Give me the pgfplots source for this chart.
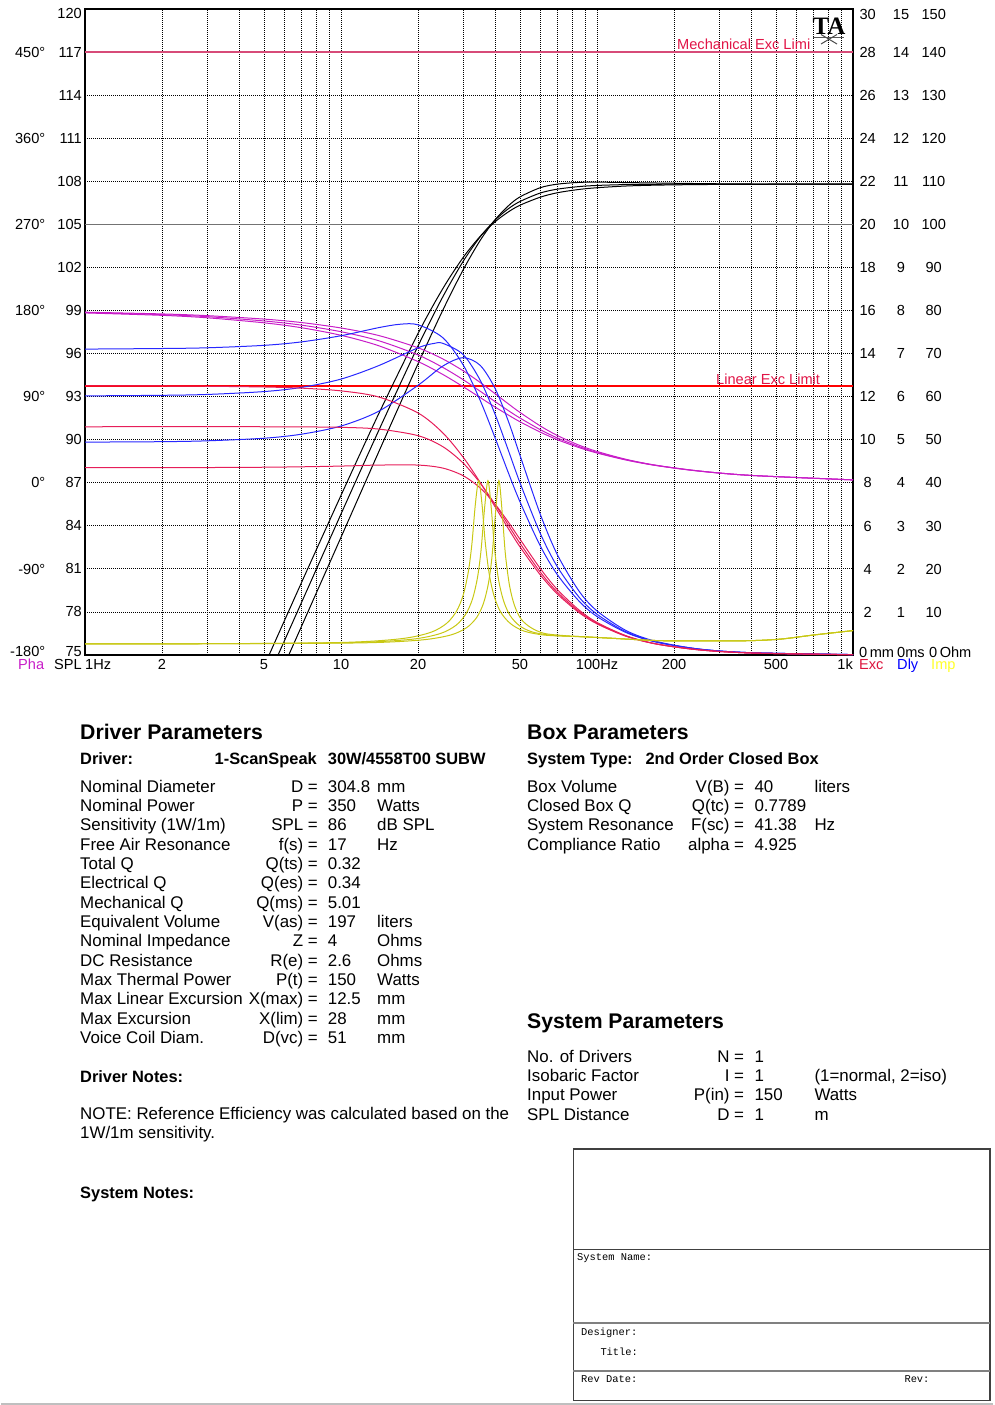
\documentclass[border=0pt]{standalone}
\usepackage{fontspec}
\setmainfont{Liberation Sans}
\newfontfamily\tafont{Liberation Serif}
\setmonofont{Liberation Mono}
\usepackage{pgfplots}
\pgfplotsset{compat=1.18}
\newcommand\fs[1]{\fontsize{#1}{#1}\selectfont}
\definecolor{excc}{RGB}{230,30,90}
\definecolor{mechc}{RGB}{215,75,120}
\definecolor{limred}{RGB}{255,0,0}
\definecolor{limtxt}{RGB}{225,20,70}
\definecolor{phac}{RGB}{200,30,200}
\definecolor{dlyc}{RGB}{40,40,255}
\definecolor{impc}{RGB}{200,200,20}
\definecolor{implab}{RGB}{255,255,40}
\definecolor{exclab}{RGB}{220,20,60}
\begin{document}
\begin{tikzpicture}[x=1pt,y=-1pt]
\path (0,0) rectangle (992,1405);
\begin{axis}[
  at={(84pt,-655pt)}, anchor=south west,
  scale only axis, width=768pt, height=646pt,
  xmode=log, xmin=1, xmax=1000, ymin=75, ymax=120,
  xtick={1,2,3,4,5,6,7,8,9,10,20,30,40,50,60,70,80,90,100,200,300,400,500,600,700,800,900,1000},
  xticklabels={,2,,,5,,,,,10,20,,,50,,,,,100Hz,200,,,500,,,,,},
  ytick={75,78,81,84,87,90,93,96,99,102,108,111,114,117,120},
  yticklabels={,78,81,84,87,90,93,96,99,102,108,111,114,117,},
  extra y ticks={105}, extra y tick labels={105},
  extra y tick style={major grid style={solid, black!55, line width=1.3pt}},
  grid=major,
  major grid style={black, line width=0.8pt, dash pattern=on 1pt off 1pt},
  major tick length=0pt, minor tick length=0pt,
  axis line style={black, line width=1.5pt},
  tick label style={font=\fs{14.6}},
  xticklabel style={inner sep=0pt, anchor=north, yshift=-4pt},
  yticklabel style={inner sep=0pt, anchor=east, xshift=-3pt},
]
% excursion limits
\addplot[color=mechc, line width=1.4pt] coordinates {(1,117)(1000,117)};
\addplot[color=limred, line width=1.5pt] coordinates {(1,93.75)(1000,93.75)};
% SPL
\addplot[black, line width=1pt, smooth] coordinates {(5,71.11)(7,76.97)(10,83.20)(14,89.10)(20,95.29)(25,99.03)(30,101.83)(35,103.89)(40,105.32)(45,106.28)(50,106.91)(60,107.55)(70,107.80)(85,107.92)(100,107.94)(130,107.91)(170,107.88)(250,107.84)(400,107.81)(1000,107.80)};
\addplot[black, line width=1pt, smooth] coordinates {(5,72.80)(7,78.63)(10,84.82)(14,90.59)(20,96.53)(25,99.96)(30,102.42)(35,104.14)(40,105.30)(45,106.08)(50,106.59)(60,107.18)(70,107.45)(85,107.63)(100,107.71)(130,107.77)(170,107.79)(250,107.80)(1000,107.80)};
\addplot[black, line width=1pt, smooth] coordinates {(4,70.35)(5,74.20)(7,80.02)(10,86.12)(14,91.76)(20,97.40)(25,100.53)(30,102.69)(35,104.17)(40,105.18)(45,105.86)(50,106.33)(60,106.89)(70,107.20)(85,107.43)(100,107.55)(130,107.67)(170,107.73)(250,107.77)(400,107.79)(1000,107.80)};
% phase
\addplot[phac, line width=1pt, smooth] coordinates {(1,98.88)(2,98.76)(3,98.64)(5,98.40)(7,98.16)(10,97.78)(14,97.26)(20,96.40)(25,95.62)(30,94.80)(35,93.98)(40,93.20)(45,92.50)(50,91.90)(60,90.96)(70,90.29)(85,89.62)(100,89.18)(130,88.63)(170,88.22)(250,87.82)(400,87.51)(1000,87.20)};
\addplot[phac, line width=1pt, smooth] coordinates {(1,98.86)(2,98.71)(3,98.57)(5,98.27)(7,97.98)(10,97.52)(14,96.90)(20,95.90)(25,95.03)(30,94.18)(35,93.37)(40,92.65)(45,92.03)(50,91.51)(60,90.70)(70,90.12)(85,89.52)(100,89.11)(130,88.60)(170,88.21)(250,87.82)(400,87.51)(1000,87.20)};
\addplot[phac, line width=1pt, smooth] coordinates {(1,98.83)(2,98.66)(3,98.49)(5,98.14)(7,97.80)(10,97.27)(14,96.55)(20,95.44)(25,94.54)(30,93.69)(35,92.93)(40,92.27)(45,91.72)(50,91.25)(60,90.53)(70,90.00)(85,89.45)(100,89.07)(130,88.58)(170,88.20)(250,87.81)(400,87.51)(1000,87.20)};
% group delay
\addplot[dlyc, line width=1pt, smooth] coordinates {(1,89.83)(2,89.86)(3,89.92)(5,90.10)(7,90.38)(10,90.95)(14,91.97)(20,93.79)(25,95.13)(30,95.71)(35,95.17)(40,93.56)(45,91.31)(50,88.92)(60,84.82)(70,81.99)(85,79.46)(100,78.07)(130,76.70)(170,75.95)(250,75.42)(400,75.16)(1000,75.03)};
\addplot[dlyc, line width=1pt, smooth] coordinates {(1,93.05)(2,93.09)(3,93.15)(5,93.35)(7,93.64)(10,94.22)(14,95.15)(20,96.40)(23,96.70)(25,96.71)(30,95.93)(35,94.13)(40,91.76)(45,89.28)(50,87.01)(60,83.48)(70,81.15)(85,79.04)(100,77.84)(130,76.61)(170,75.92)(250,75.41)(400,75.16)(1000,75.03)};
\addplot[dlyc, line width=1pt, smooth] coordinates {(1,96.31)(2,96.35)(3,96.40)(5,96.57)(7,96.81)(10,97.24)(14,97.80)(17,98.04)(20,98.00)(25,97.10)(30,95.21)(35,92.72)(40,90.12)(45,87.72)(50,85.68)(60,82.61)(70,80.60)(85,78.76)(100,77.68)(130,76.56)(170,75.90)(250,75.41)(400,75.16)(1000,75.03)};
% excursion
\addplot[excc, line width=1pt, smooth] coordinates {(1,88.05)(3,88.06)(5,88.08)(7,88.11)(10,88.16)(14,88.23)(20,88.23)(25,88.02)(30,87.49)(35,86.63)(40,85.50)(45,84.27)(50,83.07)(60,81.03)(70,79.56)(85,78.14)(100,77.27)(130,76.34)(170,75.78)(250,75.36)(400,75.14)(1000,75.02)};
\addplot[excc, line width=1pt, smooth] coordinates {(1,90.90)(5,90.90)(7,90.89)(10,90.86)(14,90.74)(20,90.28)(25,89.51)(30,88.37)(35,86.97)(40,85.48)(45,84.06)(50,82.79)(60,80.78)(70,79.38)(85,78.04)(100,77.21)(130,76.32)(170,75.77)(250,75.36)(400,75.14)(1000,75.02)};
\addplot[excc, line width=1pt, smooth] coordinates {(1,93.75)(2,93.74)(3,93.72)(5,93.67)(7,93.59)(10,93.40)(14,92.98)(20,91.86)(25,90.47)(30,88.78)(35,87.01)(40,85.32)(45,83.82)(50,82.54)(60,80.59)(70,79.25)(85,77.96)(100,77.17)(130,76.30)(170,75.77)(250,75.36)(400,75.14)(1000,75.02)};
% impedance
\addplot[impc, line width=1pt, smooth] coordinates {(1,75.78)(4.14,75.79)(12.41,75.85)(20.69,76.05)(26.9,76.40)(31.04,76.92)(33.93,77.63)(36.0,78.59)(37.66,79.99)(38.9,81.86)(40.14,84.90)(41.38,87.15)(42.62,84.93)(43.86,82.04)(45.52,79.84)(47.59,78.46)(50.48,77.51)(55.04,76.92)(62.07,76.51)(74.48,76.35)(87,76.28)(116,76.16)(158,76.03)(200,75.98)(287,75.98)(399,76.0)(523,76.11)(707,76.40)(1000,76.70)};
\addplot[impc, line width=1pt, smooth] coordinates {(1,75.78)(3.75,75.79)(11.25,75.87)(18.75,76.09)(24.38,76.49)(28.13,77.07)(30.75,77.86)(32.63,78.90)(34.13,80.39)(35.25,82.31)(36.38,85.22)(37.5,87.15)(38.63,85.26)(39.75,82.50)(41.25,80.25)(43.13,78.79)(45.75,77.75)(49.88,77.03)(56.25,76.59)(67.5,76.36)(87,76.28)(116,76.16)(158,76.03)(200,75.98)(287,75.98)(399,76.0)(523,76.11)(707,76.40)(1000,76.70)};
\addplot[impc, line width=1pt, smooth] coordinates {(1,75.78)(3.45,75.79)(10.35,75.88)(17.26,76.14)(22.43,76.58)(25.88,77.21)(28.3,78.07)(30.02,79.18)(31.4,80.75)(32.44,82.69)(33.47,85.47)(34.51,87.15)(35.55,85.50)(36.58,82.89)(37.96,80.61)(39.69,79.07)(42.1,77.97)(45.9,77.19)(51.77,76.67)(62.12,76.39)(79.37,76.30)(100,76.22)(116,76.16)(158,76.03)(200,75.98)(287,75.98)(399,76.0)(523,76.11)(707,76.40)(1000,76.70)};
\end{axis}

% ---- chart labels ----
\begin{scope}[font=\fs{14.6}, every node/.style={inner sep=0pt}]
\node[anchor=base east] at (81,18.9) {120};
\node[anchor=base east] at (81,656.9) {75};
\foreach \y/\t in {52.07/450°,138.2/360°,224.3/270°,310.5/180°,396.6/90°,482.7/0°,568.9/-90°}
  \node[anchor=base east] at (44.5,\y+5.2) {\t};
\node[anchor=base east] at (44.5,656.9) {-180°};
\foreach \y/\a/\b/\c in {14/30/15/150,52.07/28/14/140,95.1/26/13/130,138.2/24/12/120,181.3/22/11/110,224.3/20/10/100,267.4/18/9/90,310.5/16/8/80,353.5/14/7/70,396.6/12/6/60,439.7/10/5/50,482.7/8/4/40,525.8/6/3/30,568.9/4/2/20,612/2/1/10}{
  \node[anchor=base] at (866.7,\y+5.2) {\a};
  \node[anchor=base] at (900,\y+5.2) {\b};
  \node[anchor=base] at (932.7,\y+5.2) {\c};
}
\node[anchor=base west] at (858,657.2) {0\,mm};
\node[anchor=base west] at (896,657.2) {0ms};
\node[anchor=base west] at (928,657.2) {0\,Ohm};
\node[anchor=base west, text=phac] at (17,669.5) {Pha};
\node[anchor=base west] at (53,669.5) {SPL};
\node[anchor=base west] at (84,669.5) {1Hz};
\node[anchor=base east] at (852,669.5) {1k};
\node[anchor=base west, text=exclab] at (858,669.5) {Exc};
\node[anchor=base west, text=blue] at (896,669.5) {Dly};
\node[anchor=base west, text=implab] at (930,669.5) {Imp};
\node[anchor=base west, text=limtxt] at (676,50) {Mechanical Exc Limi};
\node[anchor=base west, text=limtxt] at (715,384) {Linear Exc Limit};
\end{scope}
% TA logo
\node[anchor=base, inner sep=0pt, font=\tafont\bfseries\fs{25}] at (828,34.5) {TA};
\draw[line width=1.6pt, black!65] (812,37.5) -- (843,37.5);
\draw[line width=1pt, black!70] (820,34.5) -- (836,44);
\draw[line width=1pt, black!70] (820,44) -- (836,34.5);

% ---- Driver parameters ----
\node[anchor=base west, inner sep=0pt, font=\bfseries\fs{21.2}] at (79,739) {Driver Parameters};
\node[anchor=base west, inner sep=0pt, font=\bfseries\fs{16.4}] at (79,764) {Driver:};
\node[anchor=base east, inner sep=0pt, font=\bfseries\fs{16.4}] at (316,764) {1-ScanSpeak};
\node[anchor=base west, inner sep=0pt, font=\bfseries\fs{16.4}] at (326.7,764) {30W/4558T00 SUBW};
\begin{scope}[font=\fs{16.9}, every node/.style={inner sep=0pt}]
\foreach [count=\i from 0] \a/\b/\c/\d in {
 {Nominal Diameter}/{D =}/{304.8}/{mm},
 {Nominal Power}/{P =}/{350}/{Watts},
 {Sensitivity (1W/1m)}/{SPL =}/{86}/{dB SPL},
 {Free Air Resonance}/{f(s) =}/{17}/{Hz},
 {Total Q}/{Q(ts) =}/{0.32}/{},
 {Electrical Q}/{Q(es) =}/{0.34}/{},
 {Mechanical Q}/{Q(ms) =}/{5.01}/{},
 {Equivalent Volume}/{V(as) =}/{197}/{liters},
 {Nominal Impedance}/{Z =}/{4}/{Ohms},
 {DC Resistance}/{R(e) =}/{2.6}/{Ohms},
 {Max Thermal Power}/{P(t) =}/{150}/{Watts},
 {Max Linear Excursion}/{X(max) =}/{12.5}/{mm},
 {Max Excursion}/{X(lim) =}/{28}/{mm},
 {Voice Coil Diam.}/{D(vc) =}/{51}/{mm}}{
  \pgfmathsetmacro\yy{792.3+19.33*\i}
  \node[anchor=base west] at (79,\yy) {\a};
  \node[anchor=base east] at (317,\yy) {\b};
  \node[anchor=base west] at (326.7,\yy) {\c};
  \node[anchor=base west] at (376,\yy) {\d};
}
\node[anchor=base west] at (79,1119) {NOTE: Reference Efficiency was calculated based on the};
\node[anchor=base west] at (79,1138) {1W/1m sensitivity.};
% Box parameters
\foreach [count=\i from 0] \a/\b/\c/\d in {
 {Box Volume}/{V(B) =}/{40}/{liters},
 {Closed Box Q}/{Q(tc) =}/{0.7789}/{},
 {System Resonance}/{F(sc) =}/{41.38}/{Hz},
 {Compliance Ratio}/{alpha =}/{4.925}/{}}{
  \pgfmathsetmacro\yy{792.3+19.33*\i}
  \node[anchor=base west] at (526,\yy) {\a};
  \node[anchor=base east] at (743.3,\yy) {\b};
  \node[anchor=base west] at (753.3,\yy) {\c};
  \node[anchor=base west] at (813.3,\yy) {\d};
}
\foreach [count=\i from 0] \a/\b/\c/\d in {
 {No. of Drivers}/{N =}/{1}/{},
 {Isobaric Factor}/{I =}/{1}/{(1=normal, 2=iso)},
 {Input Power}/{P(in) =}/{150}/{Watts},
 {SPL Distance}/{D =}/{1}/{m}}{
  \pgfmathsetmacro\yy{1062.3+19.33*\i}
  \node[anchor=base west] at (526,\yy) {\a};
  \node[anchor=base east] at (743.3,\yy) {\b};
  \node[anchor=base west] at (753.3,\yy) {\c};
  \node[anchor=base west] at (813.3,\yy) {\d};
}
\end{scope}
\node[anchor=base west, inner sep=0pt, font=\bfseries\fs{16.4}] at (79,1082) {Driver Notes:};
\node[anchor=base west, inner sep=0pt, font=\bfseries\fs{16.4}] at (79,1198) {System Notes:};
\node[anchor=base west, inner sep=0pt, font=\bfseries\fs{21.2}] at (526,739) {Box Parameters};
\node[anchor=base west, inner sep=0pt, font=\bfseries\fs{16.4}] at (526,764) {System Type:};
\node[anchor=base west, inner sep=0pt, font=\bfseries\fs{16.4}] at (644.3,764) {2nd Order Closed Box};
\node[anchor=base west, inner sep=0pt, font=\bfseries\fs{21.2}] at (526,1028.3) {System Parameters};

% ---- title block ----
\draw[line width=1.3pt, black!75] (572.3,1149) rectangle (989,1400.7);
\draw[line width=1pt, black!75] (572.3,1249.3) -- (989,1249.3);
\draw[line width=2pt, black!50] (572.3,1322.7) -- (989,1322.7);
\draw[line width=2pt, black!50] (572.3,1370.7) -- (989,1370.7);
\begin{scope}[font=\ttfamily\fs{10.4}, every node/.style={inner sep=0pt, anchor=base west}]
\node at (576,1260.7) {System Name:};
\node at (580,1335) {Designer:};
\node at (599.3,1355) {Title:};
\node at (580,1382) {Rev Date:};
\node at (903.3,1382) {Rev:};
\end{scope}
\draw[line width=2pt, black!25] (0,1403.5) -- (992,1403.5);
\end{tikzpicture}
\end{document}
